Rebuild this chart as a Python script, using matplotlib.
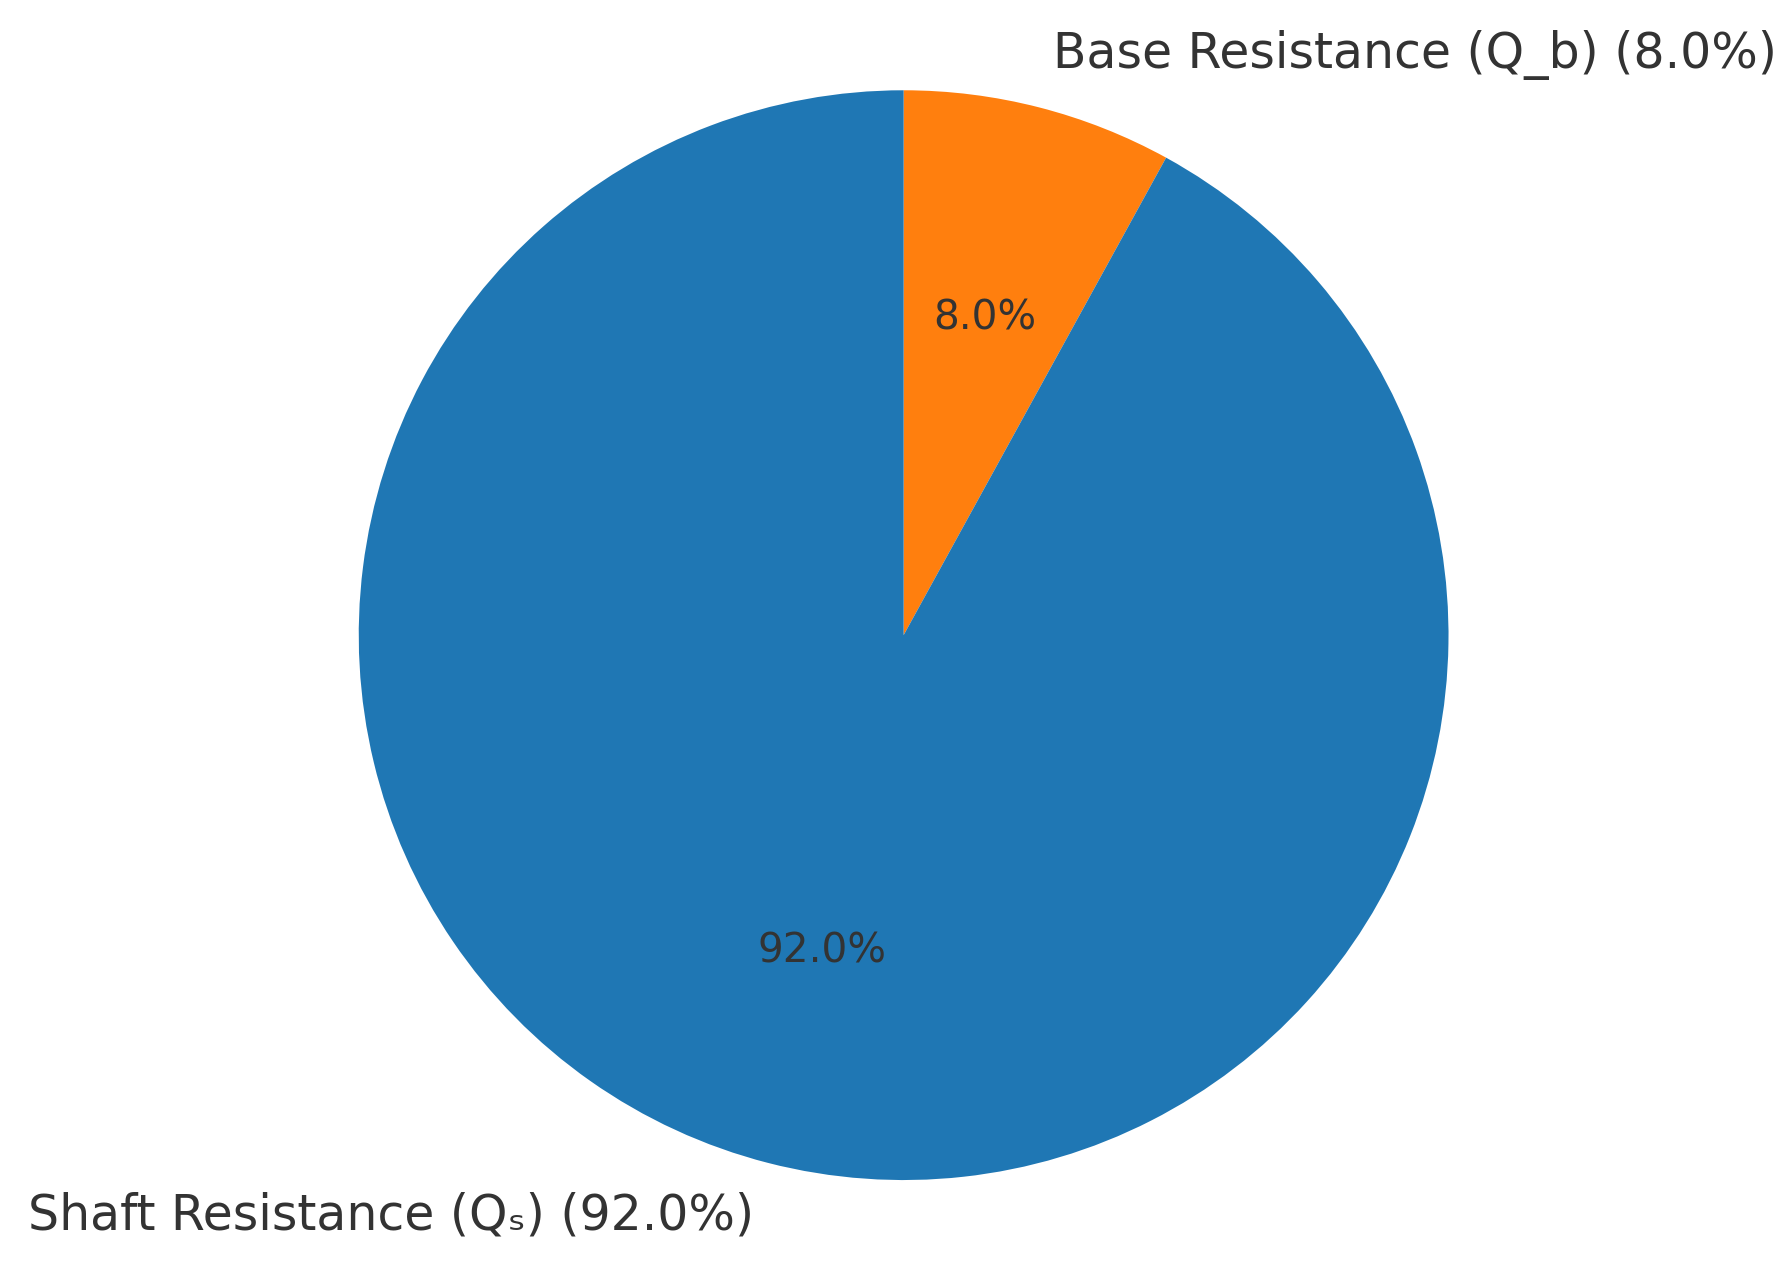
import matplotlib
matplotlib.use("Agg")
import matplotlib.pyplot as plt

labels = ['Base Resistance (Q_b) (8.0%)', 'Shaft Resistance (Q\u209b) (92.0%)']
shares = [8.0, 92.0]
colors = ['#ff7f0e', '#1f77b4']

dpi = 290
fig = plt.figure(figsize=(1783 / dpi, 1264 / dpi), dpi=dpi)
# pie limits are +-1.25, place the axes so the disc lands where it does in the reference
ax = fig.add_axes([0.1248, -0.0415, 0.764, 1.078])

wedges, texts, autotexts = ax.pie(
    shares, labels=labels, colors=colors, autopct='%1.1f%%',
    startangle=90, counterclock=False,
    textprops={'color': '#333333', 'fontsize': 12.15},
)
for t in autotexts:
    t.set_fontsize(10.1)
ax.set_aspect('equal')

fig.savefig('out.png', dpi=dpi)
